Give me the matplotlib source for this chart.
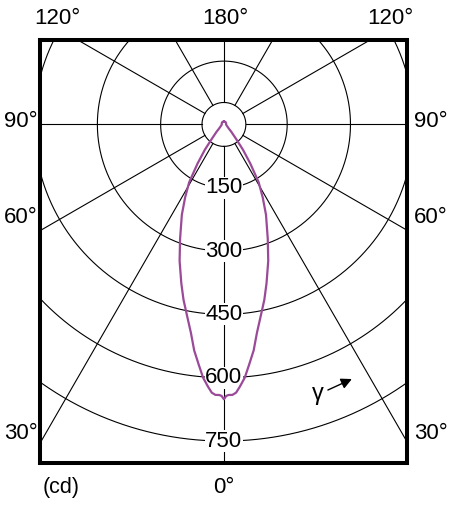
import numpy as np
import matplotlib
matplotlib.use('Agg')
import matplotlib.pyplot as plt

plt.rcParams['font.family'] = ['Liberation Sans', 'DejaVu Sans']

# luminous intensity (cd) vs gamma angle (deg), symmetric about 0
gamma = [0, 0.5, 1, 1.8, 2.6, 3.5, 4.7, 6, 7.5, 9, 11, 13, 15, 18, 21, 25, 28, 31, 34, 37, 40, 45, 50, 60, 90, 120, 150, 180]
intensity = [651, 643, 641, 641, 636, 622, 602, 572, 540, 500, 460, 426, 390, 340, 290, 236, 196, 160, 112, 75, 45, 25, 15, 9, 5, 6, 7, 7]

rings = [150, 300, 450, 600, 750]
ring_labels = ['150', '300', '450', '600', '750']
spokes = np.arange(0, 360, 30)
inner_r = 52

curve_color = '#9a4a98'

fig = plt.figure(figsize=(4.61, 5.21), dpi=100)
W, H = 461, 521
ax = fig.add_axes([40 / W, (H - 463) / H, 367 / W, 423 / H])
ax.set_xlim(-436, 434)
ax.set_ylim(-802, 200)
ax.set_xticks([])
ax.set_yticks([])
for s in ax.spines.values():
    s.set_linewidth(2.9)

def to_xy(th_deg, r):
    th = np.radians(th_deg)
    return np.asarray(r) * np.sin(th), -np.asarray(r) * np.cos(th)

# grid circles
t = np.linspace(0, 360, 721)
for r in [inner_r] + rings:
    x, y = to_xy(t, np.full_like(t, r))
    ax.plot(x, y, color='black', lw=0.8, zorder=1)

# spokes
for a in spokes:
    x, y = to_xy(np.array([a, a]), np.array([inner_r, 1200]))
    ax.plot(x, y, color='black', lw=0.8, zorder=1)

# intensity curve (mirror right side to the left)
g = np.array(gamma, dtype=float)
cd = np.array(intensity, dtype=float)
full_g = np.concatenate([-g[::-1], g[1:]])
full_cd = np.concatenate([cd[::-1], cd[1:]])
x, y = to_xy(full_g, full_cd)
ax.plot(x, y, color=curve_color, lw=1.6, zorder=5)

# ring labels along the 0 deg spoke
for r, lab in zip(rings, ring_labels):
    ax.text(0, -r, lab, ha='center', va='center', fontsize=16, zorder=4,
            bbox=dict(fc='white', ec='none', pad=0.3))

# angle labels around the frame
def px(xp, yp):
    return (xp - 224) / 0.422, (124.5 - yp) / 0.422

angle_labels = [
    ('120°', 57, 19), ('180°', 225, 19), ('120°', 391, 19),
    ('90°', 21, 122), ('90°', 431, 122),
    ('60°', 21, 218), ('60°', 431, 218),
    ('30°', 21, 433), ('30°', 431, 433),
    ('0°', 224, 487),
]
for lab, xp, yp in angle_labels:
    xd, yd = px(xp, yp)
    ax.text(xd, yd, lab, ha='center', va='center', fontsize=16, clip_on=False)

xd, yd = px(61, 487)
ax.text(xd, yd, '(cd)', ha='center', va='center', fontsize=15.5, clip_on=False)

# gamma direction marker
xd, yd = px(318, 394)
ax.text(xd, yd, 'γ', ha='center', va='center', fontsize=17)
x0, y0 = px(328, 390)
x1, y1 = px(352, 379)
ax.annotate('', xy=(x1, y1), xytext=(x0, y0),
            arrowprops=dict(arrowstyle='-|>', color='black', lw=1.0, mutation_scale=16,
                            shrinkA=0, shrinkB=0))

fig.savefig('out.png', dpi=100)
